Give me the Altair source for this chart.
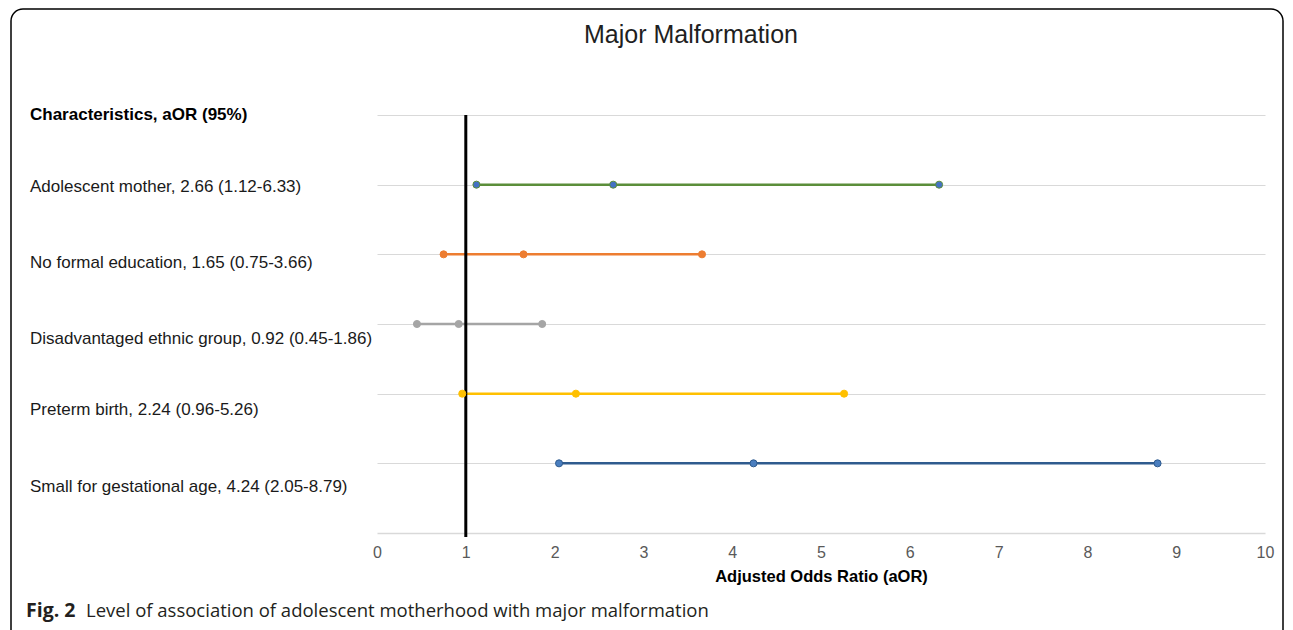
import altair as alt
import pandas as pd

# ---- data ----
labels = [
    "Adolescent mother, 2.66 (1.12-6.33)",
    "No formal education, 1.65 (0.75-3.66)",
    "Disadvantaged ethnic group, 0.92 (0.45-1.86)",
    "Preterm birth, 2.24 (0.96-5.26)",
    "Small for gestational age, 4.24 (2.05-8.79)",
]
aor = [2.66, 1.65, 0.92, 2.24, 4.24]
lower = [1.12, 0.75, 0.45, 0.96, 2.05]
upper = [6.33, 3.66, 1.86, 5.26, 8.79]
row = [5, 4, 3, 2, 1]
label_row = [4.97, 3.88, 2.78, 1.77, 0.66]
line_colors = ["#5B8E3A", "#ED7D31", "#A5A5A5", "#FFC000", "#2F5B8E"]
point_fill = ["#4472C4", "#ED7D31", "#A5A5A5", "#FFC000", "#4A7EBF"]
header = "Characteristics, aOR (95%)"
x_ticks = list(range(0, 11))
grid_rows = [1, 2, 3, 4, 5, 6]
ref_value = [1]
title_text = "Major Malformation"
x_title = "Adjusted Odds Ratio (aOR)"
caption_bold = "Fig. 2"
caption_rest = "Level of association of adolescent motherhood with major malformation"

# ---- tables ----
rows_df = pd.DataFrame({
    "label": labels, "aor": aor, "lower": lower, "upper": upper,
    "row": row, "label_row": label_row, "line": line_colors, "fill": point_fill,
})
pts = []
for i in range(len(labels)):
    for v in (lower[i], aor[i], upper[i]):
        pts.append({"label": labels[i], "value": v, "row": row[i],
                    "line": line_colors[i], "fill": point_fill[i]})
pts_df = pd.DataFrame(pts)

W, H = 888, 418
FONT = "Liberation Sans"

xscale = alt.Scale(domain=[0, 10], nice=False, zero=False)
yscale = alt.Scale(domain=[0, 6], nice=False, zero=False)

xaxis = alt.Axis(values=x_ticks, format="d", grid=False, ticks=False, domainColor="#D9D9D9",
                 domainWidth=1.5, labelColor="#595959", labelFontSize=16, labelFont=FONT,
                 labelPadding=11, labelFlush=False, labelOverlap=False,
                 title=x_title, titleFont=FONT, titleFontSize=16.5,
                 titleFontWeight="bold", titleColor="#000000", titlePadding=8)
yaxis = alt.Axis(values=grid_rows, grid=True, gridColor="#D9D9D9", gridWidth=1,
                 labels=False, ticks=False, domain=False, title=None)

base_bg = alt.Chart(pd.DataFrame({"v": [0]}))

frame = base_bg.mark_rect(fillOpacity=0, stroke="#000000", strokeWidth=1.5,
                          cornerRadius=12).encode(
    x=alt.value(-366), x2=alt.value(906), y=alt.value(-106), y2=alt.value(540))

ranges = alt.Chart(rows_df).mark_rule(strokeWidth=2.5).encode(
    x=alt.X("lower:Q", scale=xscale, axis=xaxis),
    x2="upper:Q",
    y=alt.Y("row:Q", scale=yscale, axis=yaxis),
    color=alt.Color("line:N", scale=None),
)

refline = alt.Chart(pd.DataFrame({"ref": ref_value})).mark_rule(
    color="#000000", strokeWidth=3).encode(
    x=alt.X("ref:Q", scale=xscale), y=alt.value(0), y2=alt.value(H + 4))

points = alt.Chart(pts_df).mark_point(filled=True, size=50, opacity=1,
                                      strokeWidth=1).encode(
    x=alt.X("value:Q", scale=xscale),
    y=alt.Y("row:Q", scale=yscale),
    fill=alt.Fill("fill:N", scale=None),
    stroke=alt.Stroke("line:N", scale=None),
)

row_labels = alt.Chart(rows_df).mark_text(
    align="left", baseline="middle", font=FONT, fontSize=17, color="#1A1A1A").encode(
    x=alt.value(-347), y=alt.Y("label_row:Q", scale=yscale), text="label:N")

head = alt.Chart(pd.DataFrame({"t": [header]})).mark_text(
    align="left", baseline="middle", font=FONT, fontSize=17, fontWeight="bold",
    color="#000000").encode(x=alt.value(-347), y=alt.value(0), text="t:N")

title = alt.Chart(pd.DataFrame({"t": [title_text]})).mark_text(
    align="center", baseline="middle", font=FONT, fontSize=25, color="#1F1F1F").encode(
    x=alt.value(314), y=alt.value(-80), text="t:N")

cap1 = alt.Chart(pd.DataFrame({"t": [caption_bold]})).mark_text(
    align="left", baseline="middle", font="Open Sans", fontSize=19.5, fontWeight="bold",
    color="#231F20").encode(x=alt.value(-351), y=alt.value(496), text="t:N")
cap2 = alt.Chart(pd.DataFrame({"t": [caption_rest]})).mark_text(
    align="left", baseline="middle", font="Open Sans", fontSize=18.5,
    color="#231F20").encode(x=alt.value(-291), y=alt.value(496), text="t:N")

chart = alt.layer(frame, ranges, refline, points, row_labels, head, title, cap1, cap2).properties(
    width=W, height=H,
    autosize=alt.AutoSizeParams(type="none"),
    padding={"left": 369, "top": 107, "right": 20, "bottom": 97},
).configure(background="white").configure_view(strokeWidth=0, stroke="transparent")

chart.save("out.html", embed_options={"renderer": "svg", "actions": False})
